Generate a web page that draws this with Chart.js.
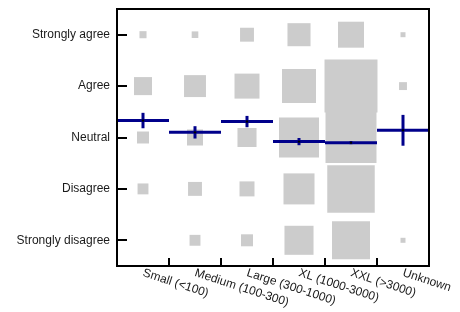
<!DOCTYPE html>
<html>
<head>
<meta charset="utf-8">
<script src="https://cdn.jsdelivr.net/npm/chart.js@4.4.0/dist/chart.umd.min.js"></script>
<style>
  html, body { margin: 0; padding: 0; background: #fff; }
  #wrap { width: 460px; height: 312px; }
</style>
</head>
<body>
<div id="wrap"><canvas id="chart"></canvas></div>
<script>
/* Likert responses by organisation size — square area ~ count, bar = mean ± error */

const categories = ['Small (<100)', 'Medium (100-300)', 'Large (300-1000)', 'XL (1000-3000)', 'XXL (>3000)', 'Unknown'];
const likertLabels = ['Strongly disagree', 'Disagree', 'Neutral', 'Agree', 'Strongly agree'];

// response counts per category, one array per answer
const stronglyDisagree = [0, 19, 23, 135, 231, 4];
const disagree = [19, 31, 36, 154, 361, 0];
const neutral = [23, 41, 58, 256, 416, 0];
const agree = [52, 77, 100, 185, 449, 10];
const stronglyAgree = [8, 7, 31, 85, 108, 4];

// mean score (1 = strongly disagree … 5 = strongly agree) and its error
const meanScores = [3.33, 3.10, 3.31, 2.92, 2.90, 3.14];
const meanErrors = [0.15, 0.12, 0.11, 0.07, 0.03, 0.30];

const COLORS = {
  square: '#cccccc',
  mean: '#00008b',
  dot: '#000000',
  axis: '#000000',
  text: '#1a1a1a'
};
const FONT = "'Liberation Sans', Arial, sans-serif";
const SIDE_PER_ROOT = 2.5; // square side in px per sqrt(count)

const rows = [stronglyDisagree, disagree, neutral, agree, stronglyAgree];
const squarePoints = [];
rows.forEach((row, li) => {
  row.forEach((n, ci) => {
    if (n > 0) squarePoints.push({ x: ci, y: li + 1, n });
  });
});
const meanPoints = meanScores.map((m, i) => ({ x: i, y: m, err: meanErrors[i] }));

const halfCategory = ctx => {
  const x = ctx.chart.scales.x;
  return (x.getPixelForValue(1) - x.getPixelForValue(0)) / 2;
};
const errorRadius = ctx => {
  const y = ctx.chart.scales.y;
  const p = ctx.raw;
  return Math.abs(y.getPixelForValue(p.y + p.err) - y.getPixelForValue(p.y));
};

// frame, inward tick marks and slanted category labels
const framePlugin = {
  id: 'frame',
  afterDraw(chart) {
    const { ctx, chartArea: a, scales } = chart;
    ctx.save();
    ctx.strokeStyle = COLORS.axis;
    ctx.lineWidth = 2;
    ctx.strokeRect(a.left, a.top, a.right - a.left, a.bottom - a.top);

    ctx.beginPath();
    scales.y.ticks.forEach(t => {
      const py = Math.round(scales.y.getPixelForValue(t.value));
      ctx.moveTo(a.left, py);
      ctx.lineTo(a.left + 10, py);
    });
    for (let i = 1; i < categories.length; i++) {
      const px = Math.round(scales.x.getPixelForValue(i - 0.5));
      ctx.moveTo(px, a.bottom);
      ctx.lineTo(px, a.bottom - 8);
    }
    ctx.stroke();

    ctx.fillStyle = COLORS.text;
    ctx.font = '12px ' + FONT;
    ctx.textAlign = 'left';
    ctx.textBaseline = 'top';
    categories.forEach((label, i) => {
      ctx.save();
      ctx.translate(scales.x.getPixelForValue(i) + 2, a.bottom + 1);
      ctx.rotate(18 * Math.PI / 180);
      ctx.fillText(label, 0, 0);
      ctx.restore();
    });
    ctx.restore();
  }
};

new Chart(document.getElementById('chart'), {
  type: 'scatter',
  data: {
    datasets: [
      {
        label: 'centre',
        data: meanPoints,
        pointStyle: 'circle',
        pointRadius: 1.2,
        pointBackgroundColor: COLORS.dot,
        pointBorderWidth: 0
      },
      {
        label: 'error',
        data: meanPoints,
        pointStyle: 'line',
        pointRotation: 90,
        pointRadius: errorRadius,
        pointBorderColor: COLORS.mean,
        pointBorderWidth: 3
      },
      {
        label: 'mean',
        data: meanPoints,
        pointStyle: 'line',
        pointRadius: halfCategory,
        pointBorderColor: COLORS.mean,
        pointBorderWidth: 3
      },
      {
        label: 'responses',
        data: squarePoints,
        pointStyle: 'rect',
        pointRadius: ctx => SIDE_PER_ROOT * Math.sqrt(ctx.raw.n) / Math.SQRT2,
        pointBackgroundColor: COLORS.square,
        pointBorderWidth: 0
      }
    ]
  },
  plugins: [framePlugin],
  options: {
    responsive: true,
    maintainAspectRatio: false,
    animation: false,
    events: [],
    layout: { autoPadding: false, padding: { top: 9, right: 31, left: 0, bottom: 0 } },
    plugins: { legend: { display: false }, tooltip: { enabled: false } },
    scales: {
      x: {
        type: 'linear',
        min: -0.5,
        max: categories.length - 0.5,
        grid: { display: false, drawTicks: false },
        border: { display: false },
        ticks: { display: false },
        afterFit: s => { s.height = 46; }
      },
      y: {
        type: 'linear',
        min: 0.5,
        max: likertLabels.length + 0.5,
        grid: { display: false, drawTicks: false },
        border: { display: false },
        afterBuildTicks: s => { s.ticks = likertLabels.map((_, i) => ({ value: i + 1 })); },
        ticks: {
          padding: 7,
          color: COLORS.text,
          font: { family: FONT, size: 12 },
          callback: v => likertLabels[v - 1]
        },
        afterFit: s => {
          s.width = 117;
          s.paddingTop = 0;
          s.paddingBottom = 0;
        }
      }
    }
  }
});
</script>
</body>
</html>
